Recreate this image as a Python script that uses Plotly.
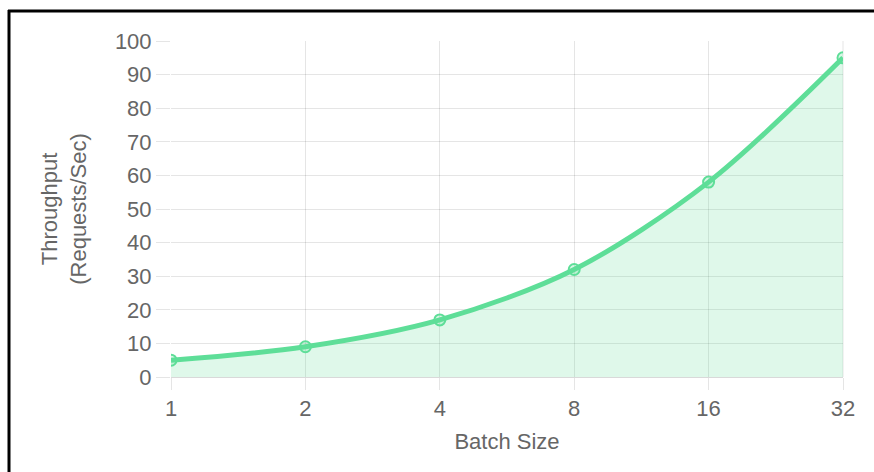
import plotly.graph_objects as go

batch_sizes = ["1", "2", "4", "8", "16", "32"]
throughput = [5, 9, 17, 32, 58, 95]

line_color = "rgb(94,222,152)"
fill_color = "rgba(94,222,152,0.2)"
grid_color = "rgba(0,0,0,0.1)"
text_color = "#666666"
font_family = "Liberation Sans, Arial, Helvetica, sans-serif"
fs = 22

fig = go.Figure()
fig.add_trace(go.Scatter(
    x=batch_sizes,
    y=throughput,
    mode="lines+markers",
    line=dict(color=line_color, width=5, shape="spline", smoothing=0.9),
    fill="tozeroy",
    fillcolor=fill_color,
    marker=dict(symbol="circle", size=11, color="rgba(94,222,152,0.25)",
                line=dict(color=line_color, width=2)),
    hoverinfo="x+y",
    showlegend=False,
))

W, H = 874, 472
L, R, T, B = 171, 31, 41, 95
pw, ph = W - L - R, H - T - B


def px_x(px):
    return (px - L) / pw


def px_y(py):
    return (H - B - py) / ph


# frame lines along the top and left edges of the page
fig.add_shape(type="line", xref="paper", yref="paper",
              x0=px_x(8), x1=px_x(880), y0=px_y(11), y1=px_y(11),
              line=dict(color="black", width=3), layer="above")
fig.add_shape(type="line", xref="paper", yref="paper",
              x0=px_x(9), x1=px_x(9), y0=px_y(10), y1=px_y(480),
              line=dict(color="black", width=3), layer="above")

fig.update_layout(
    width=W, height=H,
    margin=dict(l=L, r=R, t=T, b=B, pad=0),
    paper_bgcolor="white",
    plot_bgcolor="white",
    font=dict(family=font_family, color=text_color, size=fs),
    xaxis=dict(
        type="category",
        range=[0, 5],
        showgrid=True, gridcolor=grid_color, gridwidth=1,
        ticks="outside", ticklen=12, tickcolor=grid_color, tickwidth=1,
        showline=False, zeroline=False,
        tickfont=dict(size=fs, color=text_color),
        title=dict(text="Batch Size", font=dict(size=fs, color=text_color), standoff=13),
    ),
    yaxis=dict(
        range=[0, 100],
        dtick=10,
        showgrid=True, gridcolor=grid_color, gridwidth=1,
        ticks="outside", ticklen=14, tickcolor=grid_color, tickwidth=1,
        showline=False, zeroline=True, zerolinecolor="rgba(0,0,0,0.15)", zerolinewidth=1,
        tickfont=dict(size=fs, color=text_color),
        title=dict(text="Throughput<br>(Requests/Sec)", font=dict(size=fs, color=text_color), standoff=22),
    ),
)

# right border line of the plot area
fig.add_shape(type="line", xref="paper", yref="paper", x0=1, x1=1, y0=0, y1=1,
              line=dict(color=grid_color, width=1), layer="below")

fig.write_html("out.html")
